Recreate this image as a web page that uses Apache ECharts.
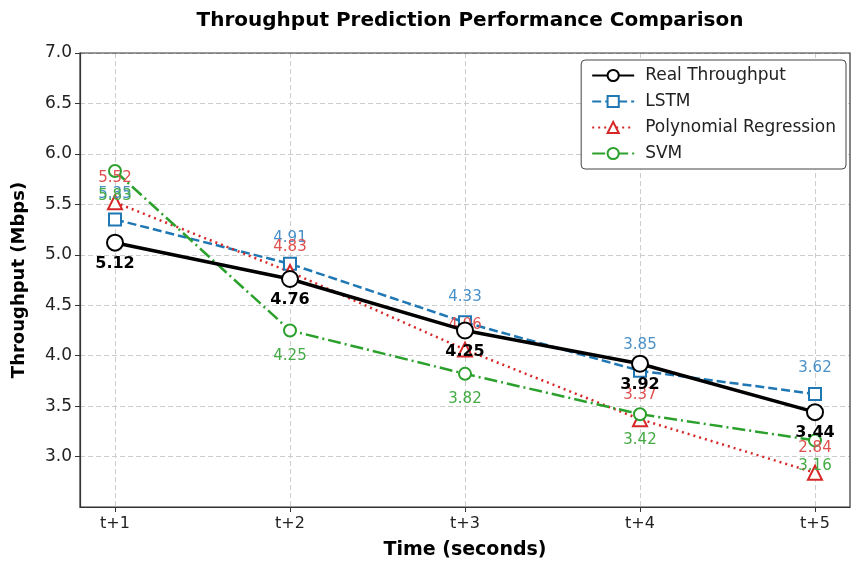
<!DOCTYPE html>
<html>
<head>
<meta charset="utf-8">
<script src="https://cdn.jsdelivr.net/npm/echarts@6/dist/echarts.min.js"></script>
<style>
  html, body { margin: 0; padding: 0; background: #fff; }
  #chart { width: 855px; height: 565px; }
</style>
</head>
<body>
<div id="chart"></div>
<script>
// data
const categories = ['t+1', 't+2', 't+3', 't+4', 't+5'];
const realThroughput = [5.12, 4.76, 4.25, 3.92, 3.44];
const lstm = [5.35, 4.91, 4.33, 3.85, 3.62];
const polyReg = [5.52, 4.83, 4.06, 3.37, 2.84];
const svm = [5.83, 4.25, 3.82, 3.42, 3.16];
const yTicks = [3.0, 3.5, 4.0, 4.5, 5.0, 5.5, 6.0, 6.5, 7.0];

const font = 'DejaVu Sans';
const toPts = arr => arr.map((v, i) => [i, v]);

let myChart = echarts.init(document.getElementById('chart'));

function lineSeries(name, data, color, dash, symbol, size, lw, labelPos, labelDist, labelStyle) {
  return {
    name: name,
    type: 'line',
    data: toPts(data),
    symbol: symbol,
    symbolSize: size,
    lineStyle: { color: color, width: lw, type: dash },
    itemStyle: { color: '#fff', borderColor: color, borderWidth: 2 },
    label: Object.assign({
      show: true,
      position: labelPos,
      distance: labelDist,
      fontFamily: font,
      fontSize: 15,
      formatter: p => p.value[1].toFixed(2)
    }, labelStyle),
    emphasis: { disabled: true },
    z: name === 'Real Throughput' ? 5 : 3
  };
}

let option = {
  animation: false,
  title: {
    text: 'Throughput Prediction Performance Comparison',
    left: 465,
    textAlign: 'center',
    top: 6,
    textStyle: { fontFamily: font, fontSize: 20, fontWeight: 'bold', color: '#000' }
  },
  legend: {
    orient: 'vertical',
    right: 9,
    top: 60,
    itemWidth: 42,
    itemHeight: 14,
    itemGap: 9,
    padding: [7, 10, 7, 10],
    borderColor: '#444',
    borderWidth: 1,
    borderRadius: 4,
    backgroundColor: '#fff',
    textStyle: { fontFamily: font, fontSize: 17, color: '#222', padding: [0, 0, 0, 6] },
    data: ['Real Throughput', 'LSTM', 'Polynomial Regression', 'SVM']
  },
  grid: { left: 80, right: 5, top: 53, bottom: 57 },
  xAxis: {
    type: 'value',
    min: -0.2,
    max: 4.2,
    name: 'Time (seconds)',
    nameLocation: 'middle',
    nameGap: 34,
    nameTextStyle: { fontFamily: font, fontSize: 19, fontWeight: 'bold', color: '#000' },
    axisLine: { show: true, onZero: false, lineStyle: { color: '#333', width: 1.2 } },
    axisTick: { show: true, length: 5, customValues: [0, 1, 2, 3, 4], lineStyle: { color: '#333' } },
    axisLabel: {
      customValues: [0, 1, 2, 3, 4],
      formatter: v => categories[Math.round(v)],
      fontFamily: font, fontSize: 16, color: '#222', margin: 9
    },
    splitLine: { show: true, lineStyle: { color: '#ccc', type: [5, 3] } }
  },
  yAxis: {
    type: 'value',
    min: 2.5,
    max: 7.0,
    name: 'Throughput (Mbps)',
    nameLocation: 'middle',
    nameGap: 52,
    nameTextStyle: { fontFamily: font, fontSize: 18, fontWeight: 'bold', color: '#000' },
    axisLine: { show: true, onZero: false, lineStyle: { color: '#333', width: 1.2 } },
    axisTick: { show: true, length: 5, customValues: yTicks, lineStyle: { color: '#333' } },
    axisLabel: {
      customValues: yTicks,
      formatter: v => v.toFixed(1),
      fontFamily: font, fontSize: 17, color: '#222', margin: 8
    },
    splitLine: { show: true, lineStyle: { color: '#ccc', type: [5, 3] } }
  },
  series: [
    lineSeries('Real Throughput', realThroughput, '#000', 'solid', 'circle', 16, 3.5, 'bottom', 4,
      { color: '#000', fontWeight: 'bold', fontSize: 16 }),
    lineSeries('LSTM', lstm, '#1f77b4', [9, 4], 'rect', 12, 2.5, 'top', 11,
      { color: '#4a90c8' }),
    lineSeries('Polynomial Regression', polyReg, '#d62728', [2, 4], 'triangle', 14, 2.5, 'top', 9,
      { color: '#e05050' }),
    lineSeries('SVM', svm, '#2ca02c', [13, 4, 2, 4], 'circle', 12, 2.5, 'bottom', 11,
      { color: '#44aa44' })
  ]
};

myChart.setOption(option);

// close the frame on top and right like the reference box
const x0 = myChart.convertToPixel({ xAxisIndex: 0 }, -0.2);
const x1 = myChart.convertToPixel({ xAxisIndex: 0 }, 4.2);
const y0 = myChart.convertToPixel({ yAxisIndex: 0 }, 7.0);
const y1 = myChart.convertToPixel({ yAxisIndex: 0 }, 2.5);
myChart.setOption({
  graphic: [{
    type: 'rect',
    shape: { x: x0, y: y0, width: x1 - x0, height: y1 - y0 },
    style: { fill: 'none', stroke: '#333', lineWidth: 1.2 },
    silent: true,
    z: 0
  }]
});
</script>
</body>
</html>
